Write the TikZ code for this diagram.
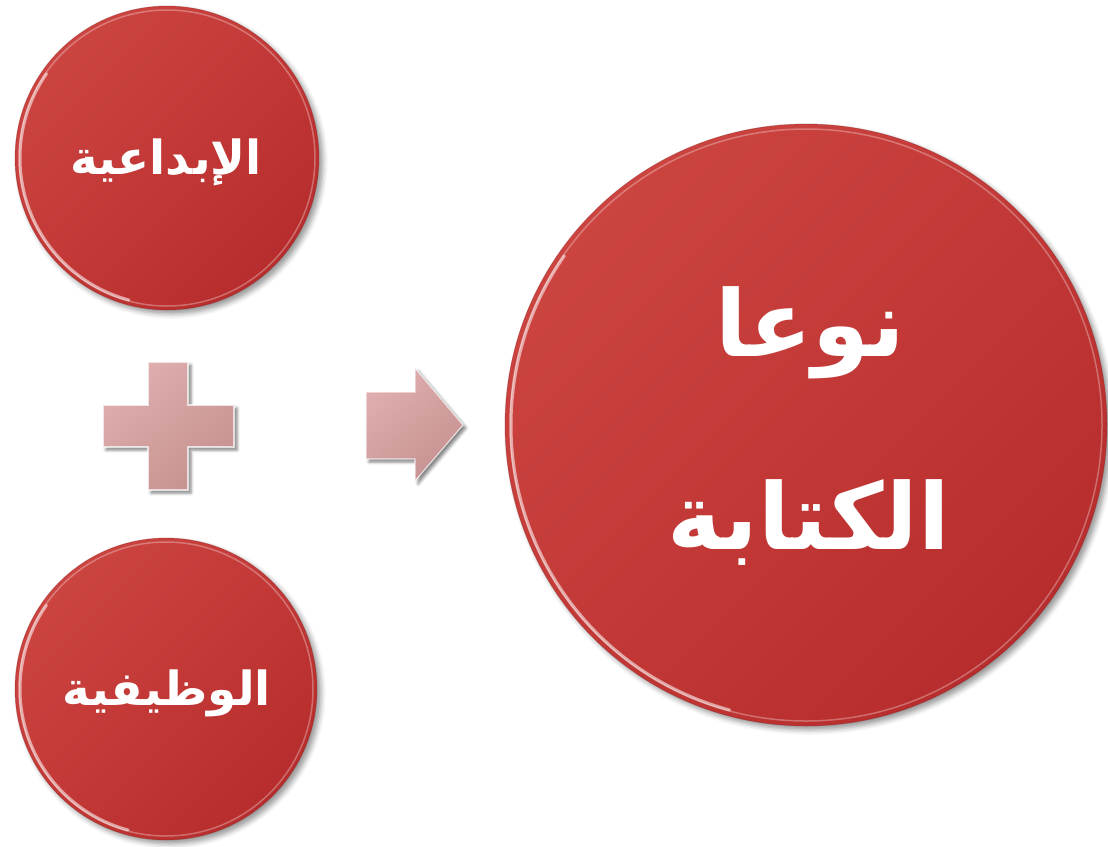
\documentclass[tikz,border=0pt]{standalone}
\usepackage{fontspec}
\newfontfamily\arabicfont[Script=Arabic]{DejaVu Sans}
\TeXXeTstate=1
\usetikzlibrary{shadows.blur}
\definecolor{redA}{HTML}{CC4440}
\definecolor{redB}{HTML}{B72D2D}
\definecolor{pinkA}{HTML}{DFAEAE}
\definecolor{pinkB}{HTML}{C69191}
\tikzset{
  bubble/.style={circle, inner sep=0pt,
    top color=redA, bottom color=redB, shading angle=45,
    blur shadow={shadow xshift=4pt, shadow yshift=-4pt, shadow opacity=40, shadow blur radius=5pt}},
  rim/.style={draw=white, draw opacity=0.3, line width=1.5pt},
  gloss/.style={draw=white, draw opacity=0.55, line width=3pt, line cap=round},
  edge/.style={draw=redB!70!black, draw opacity=0.3, line width=0.8pt},
  bevel/.style={top color=pinkA, bottom color=pinkB, shading angle=40,
    draw=white, draw opacity=0.7, line width=1.2pt, line join=miter,
    blur shadow={shadow xshift=3pt, shadow yshift=-3pt, shadow opacity=50, shadow blur radius=3pt}},
  smallfont/.style={text=white, inner sep=0pt, font=\arabicfont\bfseries\fontsize{47}{50}\selectfont},
  bigfont/.style={text=white, inner sep=0pt, anchor=base, font=\arabicfont\bfseries\fontsize{92}{100}\selectfont},
}
\begin{document}
\begin{tikzpicture}[x=1pt, y=-1pt]
\useasboundingbox (0,0) rectangle (1108,846);
% circles
\node[bubble, minimum size=304pt] (top) at (167,158) {};
\node[bubble, minimum size=302pt] (bot) at (166,689) {};
\node[bubble, minimum size=602pt] (big) at (806,425) {};
% rims
\draw[edge] (top.center) circle (152);
\draw[rim] (top.center) circle (148);
\draw[gloss] (top.center) ++(105:147) arc (105:215:147);
\draw[edge] (bot.center) circle (151);
\draw[rim] (bot.center) circle (147);
\draw[gloss] (bot.center) ++(105:146) arc (105:215:146);
\draw[edge] (big.center) circle (301);
\draw[rim] (big.center) circle (296);
\draw[gloss] (big.center) ++(105:295) arc (105:215:295);
% texts
\node[smallfont] (t1) at (166,162) {\beginR الإبداعية\endR};
\node[smallfont] (t2) at (167,693) {\beginR الوظيفية\endR};
\node[bigfont] (t3) at (810,356) {\beginR نوعا\endR};
\node[bigfont] (t4) at (809,549) {\beginR الكتابة\endR};
% plus sign
\coordinate (plus) at (168,426);
\path[bevel] (148,362) -- (188,362) -- (188,405) -- (234,405) -- (234,447) -- (188,447)
  -- (188,490) -- (148,490) -- (148,447) -- (103,447) -- (103,405) -- (148,405) -- cycle;
% arrow
\coordinate (arr) at (414,425);
\path[bevel] (366,392) -- (415,392) -- (415,368) -- (463,425) -- (415,481) -- (415,459)
  -- (366,459) -- cycle;
\end{tikzpicture}
\end{document}
